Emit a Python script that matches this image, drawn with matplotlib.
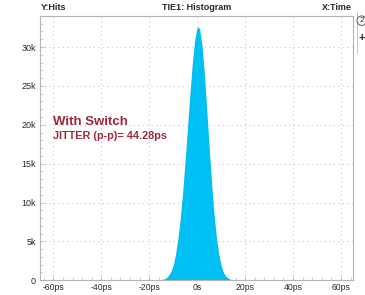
import matplotlib
matplotlib.use("Agg")
import matplotlib.pyplot as plt
from matplotlib.ticker import MultipleLocator

# ------------------------------------------------------------
# data (TIE1 histogram, hits per ps bin)
# ------------------------------------------------------------
tie_ps = [-20, -19, -18, -17, -16, -15, -14, -13, -12, -11, -10, -9, -8, -7,
          -6, -5, -4, -3, -2, -1, 0, 1, 2, 3, 4, 5, 6, 7, 8, 9, 10, 11, 12,
          13, 14, 15, 16, 17, 18, 19, 20, 21, 22, 23, 24]
hits_k = [0.15, 0.05, 0.05, 0.05, 0.05, 0.1, 0.15, 0.3, 0.6, 1.1, 1.9, 3.4,
          5.4, 8.1, 11.5, 15.5, 19.8, 24.0, 28.0, 31.0, 32.6, 32.4, 30.3,
          26.6, 22.0, 17.2, 12.6, 8.6, 5.6, 3.4, 1.9, 1.0, 0.5, 0.25, 0.12,
          0.08, 0.05, 0.04, 0.03, 0.03, 0.02, 0.02, 0.02, 0.02, 0.15]

x_ticks = [-60, -40, -20, 0, 20, 40, 60]
x_labels = ["-60ps", "-40ps", "-20ps", "0s", "20ps", "40ps", "60ps"]
y_ticks = [0, 5, 10, 15, 20, 25, 30]
y_labels = ["0", "5k", "10k", "15k", "20k", "25k", "30k"]

FILL = "#00BFF3"
RED = "#A0283C"
TXT = "#2a2a2a"
FONT = ["Liberation Sans", "DejaVu Sans"]
NARROW = ["Liberation Sans Narrow", "Liberation Sans", "DejaVu Sans"]

fig = plt.figure(figsize=(3.65, 2.95), dpi=100)
ax = fig.add_axes([0.110, 0.050, 0.857, 0.896])

ax.fill_between(tie_ps, 0, hits_k, color=FILL, linewidth=0)

ax.set_xlim(-65.5, 65)
ax.set_ylim(0, 34.0)

ax.set_xticks(x_ticks)
ax.set_xticklabels(x_labels)
ax.set_yticks(y_ticks)
ax.set_yticklabels(y_labels)
ax.xaxis.set_minor_locator(MultipleLocator(4))
ax.yaxis.set_minor_locator(MultipleLocator(1))
ax.tick_params(which="both", direction="in", color="#bdbdbd", labelcolor=TXT)
ax.tick_params(which="major", length=3, width=0.6)
ax.tick_params(which="minor", length=2, width=0.5)
ax.tick_params(axis="x", pad=2, labelsize=6.2)
ax.tick_params(axis="y", pad=3, labelsize=6.5)
for lab in ax.get_xticklabels():
    lab.set_family(NARROW)
for lab in ax.get_yticklabels():
    lab.set_family(FONT)

ax.grid(True, which="major", color="#c8c8c8", linestyle=(0, (1, 3)),
        linewidth=0.8)
ax.set_axisbelow(True)
for sp in ax.spines.values():
    sp.set_color("#b5b5b5")
    sp.set_linewidth(0.8)

# header labels
fig.text(0.112, 0.976, "Y:Hits", fontsize=6.5, fontweight="bold", color=TXT,
         ha="left", va="center", family=FONT)
fig.text(0.54, 0.976, "TIE1: Histogram", fontsize=6.5, fontweight="bold",
         color=TXT, ha="center", va="center", family=FONT)
fig.text(0.964, 0.976, "X:Time", fontsize=6.5, fontweight="bold", color=TXT,
         ha="right", va="center", family=FONT)

# side panel and buttons (cut off at the right edge)
fig.add_artist(plt.Line2D([0.978, 0.978], [0.82, 0.96], color="#c8c8c8",
                          linewidth=0.7))
fig.text(0.991, 0.93, "2", fontsize=6, color=TXT, ha="center", va="center",
         family=FONT, bbox=dict(boxstyle="circle,pad=0.15", fc="white",
                                ec="#555555", lw=0.7))
fig.text(0.991, 0.872, "+", fontsize=8, fontweight="bold", color=TXT,
         ha="center", va="center", family=FONT)

# annotation
ax.text(-60.3, 20.4, "With Switch", fontsize=9.5, fontweight="bold",
        color=RED, ha="left", va="center", family=FONT)
ax.text(-60.3, 18.5, "JITTER (p-p)= 44.28ps", fontsize=7.8, fontweight="bold",
        color=RED, ha="left", va="center", family=FONT)

fig.savefig("out.png", dpi=100, facecolor="white")
